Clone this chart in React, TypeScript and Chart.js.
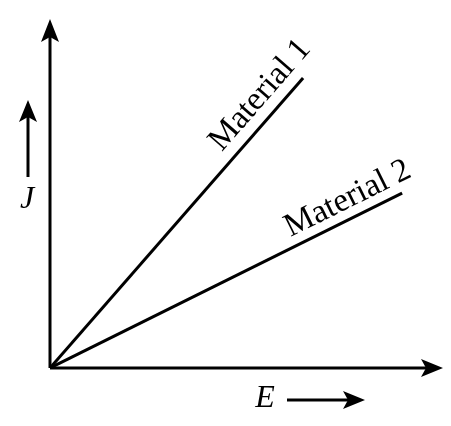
import React, { useEffect, useRef } from "react";
import { Chart, registerables } from "chart.js";

Chart.register(...registerables);

const seriesNames = ["Material 1", "Material 2"];
const material1X = [0, 64.4];
const material1Y = [0, 83.1];
const material2X = [0, 89.6];
const material2Y = [0, 50.1];
const axisNames = { x: "E", y: "J" };
const axisMax = { x: 100, y: 100 };
const labelFractions = [0.893, 0.87];
const labelOffsets = [21, 19];

const FONT = '"Liberation Serif", "Times New Roman", Times, serif';

function arrowHead(ctx: CanvasRenderingContext2D, tx: number, ty: number, dir: number, len: number, half: number, notch: number) {
  const c = Math.cos(dir), s = Math.sin(dir);
  const bx = tx - c * len, by = ty - s * len;
  const nx = -s, ny = c;
  ctx.beginPath();
  ctx.moveTo(tx, ty);
  ctx.lineTo(bx + nx * half, by + ny * half);
  ctx.lineTo(tx - c * (len - notch), ty - s * (len - notch));
  ctx.lineTo(bx - nx * half, by - ny * half);
  ctx.closePath();
  ctx.fill();
}

const decorPlugin = {
  id: "decor",
  afterDatasetsDraw(chart: any) {
    const ctx: CanvasRenderingContext2D = chart.ctx;
    const xs = chart.scales.x, ys = chart.scales.y;
    const ox = xs.getPixelForValue(0), oy = ys.getPixelForValue(0);
    const xt = xs.getPixelForValue(axisMax.x), yt = ys.getPixelForValue(axisMax.y);
    ctx.save();
    ctx.strokeStyle = "#000";
    ctx.fillStyle = "#000";
    ctx.lineWidth = 3;
    ctx.lineCap = "butt";
    ctx.beginPath();
    ctx.moveTo(ox, oy);
    ctx.lineTo(ox, yt + 15);
    ctx.moveTo(ox, oy);
    ctx.lineTo(xt - 15, oy);
    ctx.stroke();
    arrowHead(ctx, ox, yt, -Math.PI / 2, 23, 9, 5);
    arrowHead(ctx, xt, oy, 0, 22, 9, 5);

    const jx = ox - 22;
    ctx.beginPath();
    ctx.moveTo(jx, oy - 191);
    ctx.lineTo(jx, oy - 255);
    ctx.stroke();
    arrowHead(ctx, jx, oy - 268, -Math.PI / 2, 22, 9, 5);
    const ey = oy + 32;
    ctx.beginPath();
    ctx.moveTo(ox + 237, ey);
    ctx.lineTo(ox + 305, ey);
    ctx.stroke();
    arrowHead(ctx, ox + 315, ey, 0, 22, 9, 5);

    ctx.font = `italic 32px ${FONT}`;
    ctx.textAlign = "center";
    ctx.textBaseline = "middle";
    ctx.fillText(axisNames.y, jx - 1, oy - 168);
    ctx.fillText(axisNames.x, ox + 215, ey - 1);

    ctx.font = `33px ${FONT}`;
    chart.data.datasets.forEach((ds: any, i: number) => {
      const p0 = ds.data[0], p1 = ds.data[ds.data.length - 1];
      const x0 = xs.getPixelForValue(p0.x), y0 = ys.getPixelForValue(p0.y);
      const x1 = xs.getPixelForValue(p1.x), y1 = ys.getPixelForValue(p1.y);
      const ang = Math.atan2(y1 - y0, x1 - x0);
      const f = labelFractions[i];
      const px = x0 + (x1 - x0) * f, py = y0 + (y1 - y0) * f;
      const nx = Math.sin(ang), ny = -Math.cos(ang);
      const cx = px + nx * labelOffsets[i], cy = py + ny * labelOffsets[i];
      ctx.save();
      ctx.translate(cx, cy);
      ctx.rotate(ang);
      ctx.fillText(ds.label, 0, 0);
      ctx.restore();
    });
    ctx.restore();
  },
};

export default function App() {
  const ref = useRef<HTMLCanvasElement>(null);
  useEffect(() => {
    let chart: Chart | null = null;
    let cancelled = false;
    const make = () => {
      if (cancelled || !ref.current) return;
      chart = new Chart(ref.current, {
        type: "scatter",
        data: {
          datasets: [
            {
              label: seriesNames[0],
              data: material1X.map((x, i) => ({ x, y: material1Y[i] })),
              showLine: true,
              borderColor: "#000",
              borderWidth: 3,
              pointRadius: 0,
            },
            {
              label: seriesNames[1],
              data: material2X.map((x, i) => ({ x, y: material2Y[i] })),
              showLine: true,
              borderColor: "#000",
              borderWidth: 3,
              pointRadius: 0,
            },
          ],
        },
        options: {
          animation: false,
          responsive: false,
          devicePixelRatio: 1,
          layout: { padding: { left: 50, right: 8, top: 19, bottom: 58 } },
          plugins: { legend: { display: false }, tooltip: { enabled: false } },
          scales: {
            x: { type: "linear", min: 0, max: axisMax.x, display: false },
            y: { type: "linear", min: 0, max: axisMax.y, display: false },
          },
        },
        plugins: [decorPlugin],
      });
    };
    const fonts: any = (document as any).fonts;
    if (fonts && fonts.load) {
      Promise.all([
        fonts.load('32px "Liberation Serif"'),
        fonts.load('italic 32px "Liberation Serif"'),
      ]).then(make, make);
    } else {
      make();
    }
    return () => {
      cancelled = true;
      if (chart) chart.destroy();
    };
  }, []);
  return (
    <div style={{ position: "fixed", left: 0, top: 0, width: 451, height: 426, background: "#fff" }}>
      <span style={{ position: "absolute", left: -1000, fontFamily: '"Liberation Serif"' }}>Material <i>J</i></span>
      <canvas ref={ref} width={451} height={426} />
    </div>
  );
}
